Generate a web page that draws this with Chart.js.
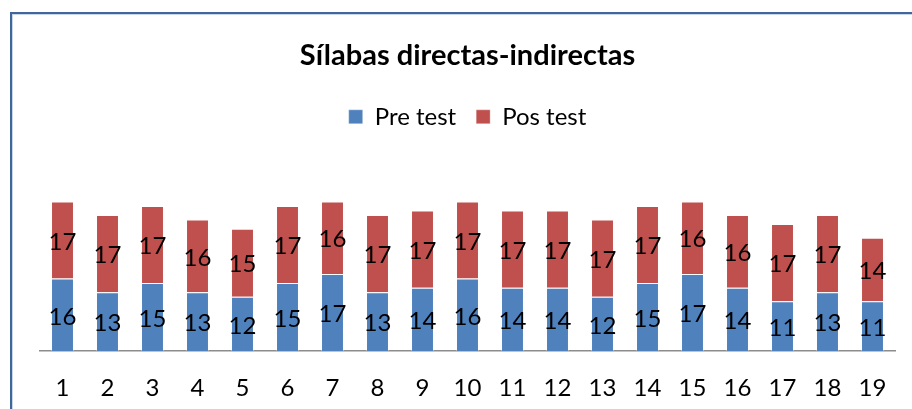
<!DOCTYPE html>
<html>
<head>
<meta charset="utf-8">
<script src="https://cdn.jsdelivr.net/npm/chart.js@4/dist/chart.umd.min.js"></script>
<style>
  html, body { margin: 0; padding: 0; background: #fff; overflow: hidden; }
  #wrap { position: relative; width: 912px; height: 409px; overflow: hidden; }
  #frame { position: absolute; left: 10px; top: 12px; width: 1000px; height: 500px;
           border-left: 2px solid #41669a; border-top: 2px solid #41669a;
           box-shadow: inset 1px 1px 0 #c9d6e8; }
  canvas { position: absolute; left: 0; top: 0; }
</style>
</head>
<body>
<div id="wrap">
  <div id="frame"></div>
  <canvas id="c" width="912" height="431"></canvas>
</div>
<script>
const categories = ["1","2","3","4","5","6","7","8","9","10","11","12","13","14","15","16","17","18","19"];
const preTest = [16,13,15,13,12,15,17,13,14,16,14,14,12,15,17,14,11,13,11];
const posTest = [17,17,17,16,15,17,16,17,17,17,17,17,17,17,16,16,17,17,14];
const titleText = "Sílabas directas-indirectas";
const seriesNames = ["Pre test", "Pos test"];

const FONT = "Lato, 'Open Sans', sans-serif";

const labelPlugin = {
  id: 'segLabels',
  afterDatasetsDraw(chart) {
    const ctx = chart.ctx;
    ctx.save();
    ctx.font = "24px " + FONT;
    ctx.fillStyle = "#000";
    ctx.textAlign = "center";
    ctx.textBaseline = "middle";
    chart.data.datasets.forEach((ds, i) => {
      const meta = chart.getDatasetMeta(i);
      meta.data.forEach((el, j) => {
        const p = el.getProps(['x','y','base'], true);
        ctx.fillText(String(ds.data[j]), p.x, (p.y + p.base) / 2 + 2);
      });
    });
    ctx.restore();
  }
};

new Chart(document.getElementById('c'), {
  type: 'bar',
  data: {
    labels: categories,
    datasets: [
      { label: seriesNames[0], data: preTest, backgroundColor: '#4f81bd',
        borderColor: 'rgba(255,255,255,0.35)', borderWidth: 1,
        categoryPercentage: 1, barPercentage: 0.51 },
      { label: seriesNames[1], data: posTest, backgroundColor: '#c0504d',
        borderColor: 'rgba(255,255,255,0.35)', borderWidth: 1,
        categoryPercentage: 1, barPercentage: 0.51 }
    ]
  },
  options: {
    responsive: false,
    animation: false,
    layout: { padding: { left: 40, right: 17, top: 0, bottom: 5 } },
    plugins: {
      title: { display: true, text: titleText, color: '#000',
        font: { family: FONT, size: 29, weight: 'bold' },
        padding: { top: 38, bottom: 12 } },
      legend: { display: true, position: 'top',
        labels: { color: '#000', font: { family: FONT, size: 24 },
          boxWidth: 14, boxHeight: 14, padding: 20 } },
      tooltip: { enabled: false }
    },
    scales: {
      x: { stacked: true,
        grid: { display: false, drawTicks: false },
        border: { display: true, color: '#8c8c8c', width: 1.5 },
        ticks: { color: '#000', font: { family: FONT, size: 24 }, padding: 23, maxRotation: 0 } },
      y: { stacked: true, display: false, min: 0, max: 46.8 }
    }
  },
  plugins: [labelPlugin]
});
</script>
</body>
</html>
